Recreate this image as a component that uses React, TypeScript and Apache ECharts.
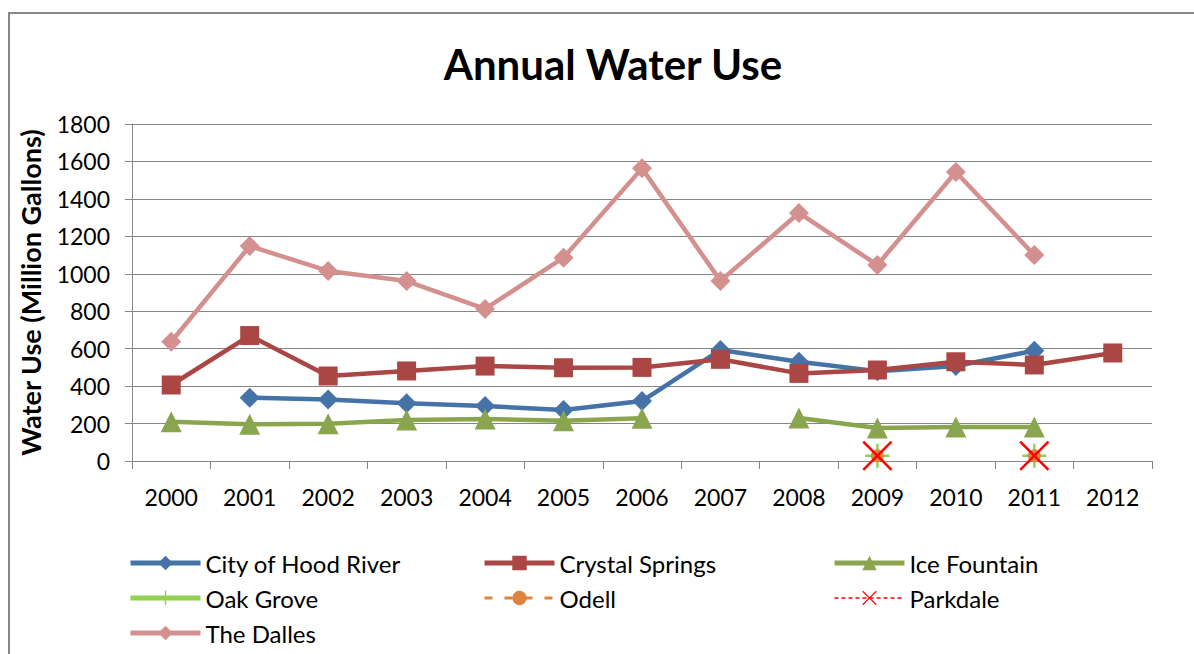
import React, { useEffect, useRef } from "react";
import * as echarts from "echarts";

const years = ["2000", "2001", "2002", "2003", "2004", "2005", "2006", "2007", "2008", "2009", "2010", "2011", "2012"];
const hoodRiver = [null, 338, 329, 308, 294, 272, 320, 593, 530, 480, 507, 589, null];
const crystalSprings = [406, 670, 454, 481, 507, 498, 500, 543, 468, 486, 530, 513, 577];
const iceFountain = [210, 196, 199, 219, 224, 215, 228, null, 230, 176, 182, 182, null];
const oakGrove = [null, null, null, null, null, null, null, null, null, 28, null, 28, null];
const odell = [null, null, null, null, null, null, null, null, null, 28, null, 28, null];
const parkdale = [null, null, null, null, null, null, null, null, null, 28, null, 28, null];
const theDalles = [637, 1148, 1015, 961, 812, 1086, 1563, 962, 1325, 1047, 1544, 1100, null];
const yTicks = { min: 0, max: 1800, interval: 200 };

const FONT = "Lato, 'Open Sans', sans-serif";
const PLUS = "path://M9,0h2v9h9v2h-9v9h-2v-9h-9v-2h9z";
const CROSS = "path://M0,1.2L1.2,0L10,8.8L18.8,0L20,1.2L11.2,10L20,18.8L18.8,20L10,11.2L1.2,20L0,18.8L8.8,10Z";

export default function App() {
  const ref = useRef<HTMLDivElement>(null);
  useEffect(() => {
    document.body.style.margin = "0";
    const chart = echarts.init(ref.current!, null, { renderer: "svg" });
    const mk = (name: string, data: any[], color: string, symbol: string, symbolSize: number, width: number, type: any = "solid") => ({
      name,
      type: "line",
      data,
      symbol,
      symbolSize,
      showAllSymbol: true,
      connectNulls: false,
      itemStyle: { color, opacity: 1 },
      lineStyle: { color, width, type },
      emphasis: { disabled: true },
    });
    const legendBase = {
      orient: "vertical",
      padding: 0,
      itemWidth: 70,
      itemHeight: 18,
      itemGap: 11,
      height: 100,
      textStyle: { fontSize: 24, color: "#000", fontFamily: FONT, padding: [0, 0, 0, 0] },
      selectedMode: false,
      top: 551,
    };
    const li = (name: string, width: number, type: any = "solid") => ({ name, lineStyle: { width, type } });
    chart.setOption({
      animation: false,
      backgroundColor: "#fff",
      title: {
        text: "Annual Water Use",
        left: 608,
        textAlign: "center",
        top: 38,
        textStyle: { fontSize: 42, fontWeight: "bold", color: "#000", fontFamily: FONT },
      },
      grid: { left: 132, right: 42, top: 124, bottom: 193, containLabel: false },
      xAxis: {
        type: "category",
        data: years,
        boundaryGap: true,
        axisLine: { lineStyle: { color: "#868686", width: 1 } },
        axisTick: { show: true, length: 8, lineStyle: { color: "#868686" } },
        axisLabel: { fontSize: 23, color: "#000", fontFamily: FONT, margin: 24 },
      },
      yAxis: {
        type: "value",
        min: yTicks.min,
        max: yTicks.max,
        interval: yTicks.interval,
        name: "Water Use (Million Gallons)",
        nameLocation: "middle",
        nameGap: 88,
        nameTextStyle: { fontSize: 27, fontWeight: "bold", color: "#000", fontFamily: FONT },
        axisLine: { show: true, lineStyle: { color: "#868686", width: 1 } },
        axisTick: { show: true, length: 7, lineStyle: { color: "#868686" } },
        axisLabel: { fontSize: 23, color: "#000", fontFamily: FONT, margin: 22, formatter: (v: number) => String(v) },
        splitLine: { lineStyle: { color: "#868686", width: 1 } },
      },
      legend: [
        { ...legendBase, left: 128, data: [li("City of Hood River", 5), li("Oak Grove", 5), li("The Dalles", 5)] },
        { ...legendBase, left: 482, data: [li("Crystal Springs", 5), li("Odell", 3, [8, 12])] },
        { ...legendBase, left: 832, data: [li("Ice Fountain", 5), li("Parkdale", 1.5, [4, 3])] },
      ],
      graphic: [
        { type: "line", shape: { x1: 9, y1: 13, x2: 9, y2: 654 }, style: { stroke: "#878787", lineWidth: 2 } },
        { type: "line", shape: { x1: 8, y1: 13, x2: 1194, y2: 13 }, style: { stroke: "#878787", lineWidth: 2 } },
      ],
      series: [
        mk("City of Hood River", hoodRiver, "#4572A7", "diamond", 20, 4.5),
        mk("Crystal Springs", crystalSprings, "#AA4643", "rect", 19, 4.5),
        mk("Ice Fountain", iceFountain, "#89A54E", "triangle", 21, 4.5),
        mk("Oak Grove", oakGrove, "#92D050", PLUS, 24, 4),
        mk("Odell", odell, "#DB843D", "circle", 13, 3, [8, 10]),
        mk("Parkdale", parkdale, "#FF0000", CROSS, 30, 1.5, "dashed"),
        mk("The Dalles", theDalles, "#D4908F", "diamond", 20, 4.5),
      ],
    });
    return () => chart.dispose();
  }, []);
  return <div ref={ref} style={{ width: 1194, height: 654 }} />;
}
